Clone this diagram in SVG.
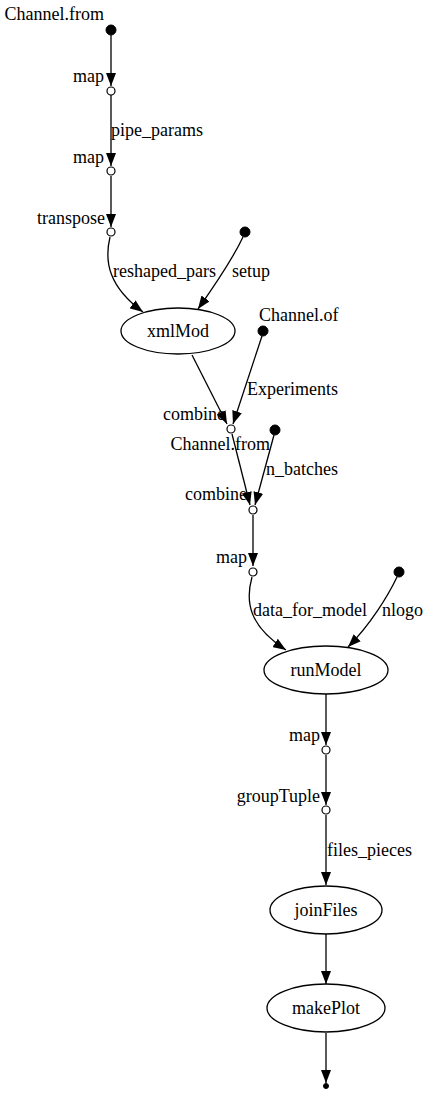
<svg xmlns="http://www.w3.org/2000/svg" width="430" height="1094" viewBox="0 0 430 1094">
<style>
text{font-family:"Liberation Serif","Times New Roman",serif;font-size:18px;fill:#000}
.e{fill:none;stroke:#000;stroke-width:1.3}
.n{fill:#fff;stroke:#000;stroke-width:1.3}
.d{fill:#000;stroke:#000}
.o{fill:#fff;stroke:#000;stroke-width:1.2}
.m{text-anchor:middle}
.r{text-anchor:end}
</style>
<defs>
<marker id="ah" viewBox="0 0 13 10" refX="13" refY="5" markerWidth="13" markerHeight="10" markerUnits="userSpaceOnUse" orient="auto">
<path d="M0,0 L13,5 L0,10 z" fill="#000"/>
</marker>
</defs>
<rect width="430" height="1094" fill="#fff"/>
<g id="connectors">
<path class="e" d="M111,35 L111,86" marker-end="url(#ah)"/>
<path class="e" d="M111,95 L111,166" marker-end="url(#ah)"/>
<text x="111" y="136">pipe_params</text>
<path class="e" d="M111,176 L111,227" marker-end="url(#ah)"/>
<path class="e" d="M110,237 C104,262 109,287 143,312" marker-end="url(#ah)"/>
<text x="113" y="277">reshaped_pars</text>
<path class="e" d="M243,237 C234,256 215,285 198,309" marker-end="url(#ah)"/>
<text x="232" y="277">setup</text>
<path class="e" d="M192,355 L227,424" marker-end="url(#ah)"/>
<path class="e" d="M262,336 L233,424" marker-end="url(#ah)"/>
<text x="247" y="395">Experiments</text>
<path class="e" d="M232,434 L250,505" marker-end="url(#ah)"/>
<path class="e" d="M274,435 L255,505" marker-end="url(#ah)"/>
<text x="266" y="475">n_batches</text>
<path class="e" d="M253,515 L253,566" marker-end="url(#ah)"/>
<path class="e" d="M252,577 C245,602 249,626 286,650" marker-end="url(#ah)"/>
<text x="253" y="616">data_for_model</text>
<path class="e" d="M397,577 C388,596 370,625 348,647" marker-end="url(#ah)"/>
<text x="382" y="616">nlogo</text>
<path class="e" d="M326,694 L326,745" marker-end="url(#ah)"/>
<path class="e" d="M326,755 L326,805" marker-end="url(#ah)"/>
<path class="e" d="M326,815 L326,885" marker-end="url(#ah)"/>
<text x="327" y="856">files_pieces</text>
<path class="e" d="M326,934 L326,984" marker-end="url(#ah)"/>
<path class="e" d="M326,1033 L326,1083" marker-end="url(#ah)"/>
</g>
<g id="channel_from_1"><circle class="d" cx="111" cy="30" r="5"/><text class="r" x="104" y="20">Channel.from</text></g>
<g id="map_1"><circle class="o" cx="111" cy="91" r="4"/><text class="r" x="104" y="82">map</text></g>
<g id="map_2"><circle class="o" cx="111" cy="171" r="4"/><text class="r" x="104" y="163">map</text></g>
<g id="transpose"><circle class="o" cx="111" cy="232" r="4"/><text class="r" x="105" y="224">transpose</text></g>
<g id="setup"><circle class="d" cx="245" cy="232" r="5"/></g>
<g id="xmlMod"><ellipse class="n" cx="178" cy="331" rx="57" ry="23"/><text class="m" x="178" y="337">xmlMod</text></g>
<g id="channel_of"><circle class="d" cx="263" cy="331" r="5"/><text x="259" y="321">Channel.of</text></g>
<g id="combine_1"><circle class="o" cx="231" cy="429" r="4"/><text class="r" x="225" y="420">combine</text></g>
<g id="channel_from_2"><circle class="d" cx="275" cy="430" r="5"/><text class="r" x="270" y="450">Channel.from</text></g>
<g id="combine_2"><circle class="o" cx="253" cy="510" r="4"/><text class="r" x="247" y="500">combine</text></g>
<g id="map_3"><circle class="o" cx="253" cy="572" r="4"/><text class="r" x="247" y="563">map</text></g>
<g id="nlogo"><circle class="d" cx="399" cy="572" r="5"/></g>
<g id="runModel"><ellipse class="n" cx="326" cy="670" rx="62" ry="24"/><text class="m" x="326" y="676">runModel</text></g>
<g id="map_4"><circle class="o" cx="326" cy="750" r="4"/><text class="r" x="320" y="741">map</text></g>
<g id="groupTuple"><circle class="o" cx="326" cy="810" r="4"/><text class="r" x="320" y="802">groupTuple</text></g>
<g id="joinFiles"><ellipse class="n" cx="326" cy="910" rx="56" ry="24"/><text class="m" x="326" y="916">joinFiles</text></g>
<g id="makePlot"><ellipse class="n" cx="326" cy="1008" rx="59" ry="24"/><text class="m" x="326" y="1014">makePlot</text></g>
<g id="end"><circle class="d" cx="326" cy="1086" r="2.5"/></g>
</svg>
